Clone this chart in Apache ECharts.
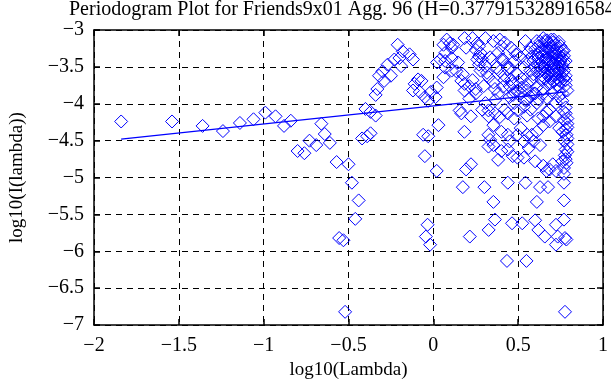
<!DOCTYPE html>
<html>
<head>
<meta charset="utf-8">
<script src="https://cdn.jsdelivr.net/npm/echarts@6/dist/echarts.min.js"></script>
<style>html,body{margin:0;padding:0;background:#fff;}#c{width:611px;height:385px;}</style>
</head>
<body>
<div id="c"></div>
<script>
const titleText = "Periodogram Plot for Friends9x01 Agg. 96 (H=0.377915328916584)";
const xName = "log10(Lambda)";
const yName = "log10(I(lambda))";
const xTicks = [-2, -1.5, -1, -0.5, 0, 0.5, 1];
const yTicks = [-7, -6.5, -6, -5.5, -5, -4.5, -4, -3.5, -3];

// log10(Lambda) / log10(I(lambda)) pairs
const pts = [
[-1.84,-4.24],[-1.54,-4.24],[-1.36,-4.30],[-1.24,-4.37],[-1.14,-4.26],[-1.06,-4.21],[-0.99,-4.12],[-0.93,-4.17],
[-0.88,-4.30],[-0.84,-4.23],[-0.80,-4.64],[-0.76,-4.67],[-0.73,-4.50],[-0.69,-4.56],[-0.66,-4.27],[-0.64,-4.41],
[-0.61,-4.53],[-0.57,-4.79],[-0.50,-4.82],[-0.48,-5.07],[-0.44,-5.31],[-0.46,-5.56],[-0.555,-5.82],[-0.53,-5.85],[-0.52,-6.82],
[-0.42,-4.47],[-0.39,-4.44],[-0.37,-4.40],[-0.40,-4.07],[-0.37,-4.11],[-0.34,-4.16],[-0.34,-3.88],[-0.33,-3.80],
[-0.32,-3.62],[-0.29,-3.69],[-0.30,-3.56],[-0.25,-3.62],[-0.27,-3.47],[-0.23,-3.40],[-0.20,-3.38],[-0.19,-3.49],
[-0.12,-3.40],[-0.14,-3.33],[-0.18,-3.29],[-0.21,-3.20],[-0.09,-3.67],[-0.11,-3.73],[-0.07,-3.69],[-0.12,-3.82],
[-0.08,-3.84],[-0.05,-3.91],[-0.015,-3.84],[-0.03,-3.96],[0.013,-3.91],[0.02,-3.78],[-0.06,-4.42],[-0.03,-4.44],
[0.03,-4.29],[-0.05,-4.71],[0.02,-4.91],[-0.034,-5.64],[-0.044,-5.80],[-0.019,-5.91],
[0.079,-3.13],[0.098,-3.18],[0.06,-3.20],[0.108,-3.24],[0.07,-3.31],[0.041,-3.40],[0.022,-3.44],[0.07,-3.42],
[0.108,-3.38],[0.146,-3.44],[0.136,-3.56],[0.174,-3.60],[0.165,-3.69],[0.212,-3.76],[0.184,-3.82],[0.25,-3.80],
[0.07,-3.51],[0.108,-3.55],[0.06,-3.64],[0.117,-3.20],[0.184,-3.11],[0.193,-3.24],[0.231,-3.11],[0.259,-3.18],
[0.25,-3.27],[0.278,-3.31],[0.288,-3.40],[0.269,-3.47],[0.307,-3.49],[0.316,-3.58],[0.326,-3.64],[0.354,-3.71],
[0.363,-3.80],[0.297,-3.76],[0.269,-3.36],[0.392,-3.13],[0.401,-3.22],[0.382,-3.31],[0.411,-3.40],[0.43,-3.47],
[0.439,-3.53],[0.42,-3.62],[0.458,-3.67],[0.449,-3.76],[0.477,-3.84],[0.392,-3.56],[0.345,-3.40],
[0.269,-3.22],[0.259,-3.40],[0.278,-3.55],[0.231,-3.68],[0.25,-3.86],[0.212,-3.93],[0.184,-3.73],[0.165,-4.13],
[0.221,-4.17],[0.288,-4.08],[0.307,-3.99],[0.364,-3.95],[0.383,-3.86],[0.411,-3.77],[0.42,-3.68],[0.373,-3.51],
[0.401,-3.40],[0.42,-3.17],[0.458,-3.24],[0.487,-3.33],[0.477,-3.42],[0.449,-3.51],[0.496,-3.60],[0.468,-3.73],
[0.524,-3.66],[0.534,-3.51],[0.553,-3.42],[0.572,-3.24],[0.543,-3.15],[0.61,-3.15],[0.648,-3.11],[0.695,-3.13],
[0.723,-3.20],[0.761,-3.28],[0.78,-3.42],[0.77,-3.55],[0.742,-3.68],[0.761,-3.86],[0.723,-3.99],[0.685,-4.08],
[0.648,-3.86],[0.61,-3.77],[0.59,-3.60],[0.629,-3.46],[0.666,-3.37],[0.704,-3.46],[0.723,-3.60],[0.685,-3.73],
[0.61,-3.33],[0.666,-3.24],[0.704,-3.33],[0.742,-3.46],[0.78,-3.68],[0.79,-3.82],[0.515,-3.86],[0.477,-3.99],
[0.534,-4.04],[0.42,-4.08],[0.364,-4.13],[0.326,-4.17],[0.572,-4.08],[0.61,-3.99],[0.648,-4.17],[0.723,-4.17],
[0.78,-4.13],[0.79,-4.20],
[0.648,-3.20],[0.685,-3.24],[0.714,-3.28],[0.742,-3.35],[0.657,-3.51],[0.695,-3.55],[0.733,-3.51],[0.752,-3.62],
[0.676,-3.62],[0.714,-3.68],[0.638,-3.68],[0.761,-3.51],[0.704,-3.17],[0.733,-3.40],[0.666,-3.44],[0.77,-3.35],
[0.629,-3.31],[0.657,-3.15],[0.59,-3.42],[0.572,-3.55],[0.61,-3.55],[0.553,-3.73],[0.59,-3.86],[0.553,-3.95],
[0.496,-3.82],[0.449,-3.91],[0.477,-3.28],[0.515,-3.37],[0.335,-3.37],[0.354,-3.15],[0.307,-3.11],
[0.64,-3.28],[0.67,-3.30],[0.70,-3.38],[0.73,-3.25],[0.75,-3.42],[0.69,-3.50],[0.72,-3.56],[0.66,-3.58],
[0.64,-3.44],[0.76,-3.58],[0.70,-3.62],[0.68,-3.18],[0.74,-3.16],[0.62,-3.38],[0.71,-3.70],[0.77,-3.28],
[0.66,-3.66],[0.60,-3.50],[0.63,-3.56],[0.73,-3.76],[0.75,-3.70],[0.69,-3.42],[0.72,-3.33],[0.65,-3.36],
[0.68,-3.47],[0.76,-3.48],[0.78,-3.62],[0.78,-3.75],[0.71,-3.13],[0.63,-3.16],
[0.62,-3.22],[0.66,-3.27],[0.69,-3.29],[0.72,-3.40],[0.74,-3.30],[0.76,-3.38],[0.67,-3.40],[0.71,-3.48],
[0.74,-3.56],[0.68,-3.57],[0.65,-3.50],[0.70,-3.22],[0.75,-3.22],[0.77,-3.44],[0.73,-3.66],[0.69,-3.66],
[0.64,-3.62],[0.77,-3.66],[0.72,-3.46],[0.67,-3.14],[0.62,-3.48],[0.58,-3.36],[0.56,-3.30],[0.60,-3.26],
[0.50,-3.70],[0.52,-3.78],[0.55,-3.82],[0.57,-3.90],[0.60,-3.86],[0.62,-3.94],[0.58,-3.68],[0.54,-3.95],
[0.47,-3.88],[0.65,-3.80],[0.67,-3.92],[0.70,-3.85],[0.74,-3.90],[0.76,-3.96],
[0.183,-4.38],[0.155,-4.09],[0.222,-4.82],[0.193,-4.89],[0.174,-5.13],[0.301,-5.13],[0.354,-5.33],[0.439,-5.07],
[0.543,-5.07],[0.61,-5.33],[0.629,-5.13],[0.676,-5.13],[0.77,-5.07],[0.77,-5.31],[0.325,-4.42],[0.335,-4.49],
[0.354,-4.56],[0.325,-4.58],[0.382,-4.76],[0.401,-4.64],[0.449,-4.51],[0.439,-4.62],[0.468,-4.71],[0.496,-4.73],
[0.534,-4.73],[0.562,-4.60],[0.591,-4.51],[0.629,-4.56],[0.60,-4.78],[0.648,-4.84],[0.685,-4.89],[0.704,-4.82],
[0.723,-4.91],[0.761,-4.78],[0.785,-4.80],[0.78,-4.62],[0.79,-4.47],[0.761,-4.38],[0.79,-4.27],[0.77,-4.11],
[0.742,-4.33],[0.685,-4.24],[0.666,-4.11],[0.648,-4.29],[0.61,-4.38],[0.553,-4.42],[0.515,-4.33],[0.477,-4.20],
[0.439,-4.13],[0.392,-4.18],[0.354,-4.29],[0.401,-4.38],[0.439,-4.42],[0.496,-4.42],[0.534,-4.51],[0.581,-4.42],
[0.619,-4.20],[0.553,-4.16],[0.496,-4.09],[0.325,-4.09],
[0.78,-4.35],[0.79,-4.55],[0.775,-4.70],[0.77,-4.22],[0.785,-4.42],
[0.78,-4.05],[0.79,-4.32],[0.77,-4.50],[0.79,-4.65],[0.78,-4.75],[0.77,-4.95],
[0.363,-5.57],[0.326,-5.71],[0.215,-5.80],[0.464,-5.62],[0.524,-5.62],[0.60,-5.58],[0.619,-5.71],[0.657,-5.80],
[0.723,-5.64],[0.723,-5.91],[0.733,-5.80],[0.77,-5.57],[0.776,-5.82],[0.784,-5.84],[0.434,-6.13],[0.549,-6.13],
[0.776,-6.82],[0.667,-4.91],[0.77,-4.87]
];
const logLambda = pts.map(p => p[0]);
const logPeriodogram = pts.map(p => p[1]);

// least-squares fit line end points
const fitX = [-1.84, 0.78];
const fitY = [-4.48, -3.84];

const FONT = 'Liberation Serif';
const fmt = v => (v < 0 ? '\u2212' : '') + String(Math.abs(v));
const tickInterval = xTicks[1] - xTicks[0];

const chart = echarts.init(document.getElementById('c'), null, {renderer: 'canvas'});
const axisCommon = {
  type: 'value',
  interval: tickInterval,
  axisLine: {onZero: false, lineStyle: {color: '#000', width: 1.5}},
  axisTick: {inside: true, length: 6, lineStyle: {color: '#000', width: 1.5}},
};
chart.setOption({
  animation: false,
  backgroundColor: '#fff',
  title: {
    text: titleText, left: 69, top: 0, padding: 0,
    textStyle: {fontFamily: FONT, fontSize: 20, fontWeight: 'normal', color: '#000'}
  },
  grid: {left: 81, right: 2, top: 30, bottom: 55, containLabel: false},
  xAxis: [
    Object.assign({}, axisCommon, {
      position: 'bottom', min: xTicks[0], max: xTicks[xTicks.length - 1],
      name: xName, nameLocation: 'middle', nameGap: 33,
      nameTextStyle: {fontFamily: FONT, fontSize: 19, color: '#000'},
      axisLabel: {formatter: fmt, margin: 11, fontFamily: FONT, fontSize: 20, color: '#000'},
      splitLine: {show: true, lineStyle: {color: '#000', type: [6, 5], width: 1}}
    }),
    Object.assign({}, axisCommon, {
      position: 'top', min: xTicks[0], max: xTicks[xTicks.length - 1],
      axisLabel: {show: false}, splitLine: {show: false}
    })
  ],
  yAxis: [
    Object.assign({}, axisCommon, {
      position: 'left', min: yTicks[0], max: yTicks[yTicks.length - 1],
      name: yName, nameLocation: 'middle', nameGap: 67,
      nameTextStyle: {fontFamily: FONT, fontSize: 19, color: '#000'},
      axisLabel: {formatter: fmt, margin: 10, fontFamily: FONT, fontSize: 20, color: '#000', padding: [5, 0, 0, 0]},
      splitLine: {show: true, lineStyle: {color: '#000', type: [6, 5], width: 1}}
    }),
    Object.assign({}, axisCommon, {
      position: 'right', min: yTicks[0], max: yTicks[yTicks.length - 1],
      axisLabel: {show: false}, splitLine: {show: false}
    })
  ],
  series: [
    {
      type: 'scatter',
      symbol: 'diamond',
      symbolSize: 13,
      data: logLambda.map((x, i) => [x, logPeriodogram[i]]),
      itemStyle: {color: 'rgba(0,0,0,0)', borderColor: '#0000ff', borderWidth: 1, opacity: 1},
      emphasis: {disabled: true}
    },
    {
      type: 'line',
      data: fitX.map((x, i) => [x, fitY[i]]),
      symbol: 'none',
      lineStyle: {color: '#0000ff', width: 1.2},
      z: 3
    }
  ]
});
</script>
</body>
</html>
